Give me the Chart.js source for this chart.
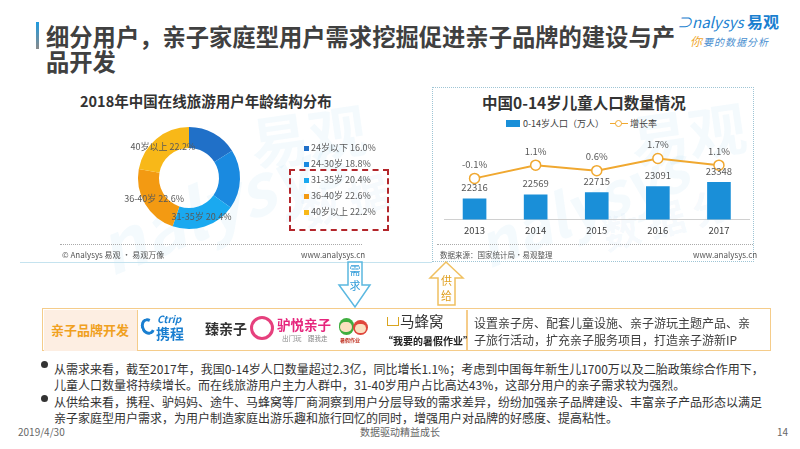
<!DOCTYPE html>
<html><head><meta charset="utf-8">
<script src="https://cdn.jsdelivr.net/npm/chart.js@4.4.1/dist/chart.umd.min.js"></script>
<style>
body{margin:0;width:800px;height:449px;background:#fff;font-family:"Noto Sans CJK SC","Noto Sans",sans-serif;position:relative;overflow:hidden;color:#404040}
.a{position:absolute;white-space:nowrap}
.wm{position:absolute;white-space:nowrap;color:rgba(120,185,225,0.08);font-weight:bold;font-family:"Noto Sans CJK SC",sans-serif}
.bl{font-size:12px;line-height:16px;color:#333}
</style></head><body>
<script>
// ---- data ----
const ageLabels = ['24岁以下','24-30岁','31-35岁','36-40岁','40岁以上'];
const ageValues = [16.0, 18.8, 20.4, 22.6, 22.2];
const ageShownOnRing = [false, false, true, true, true];
const years = ['2013','2014','2015','2016','2017'];
const childPop = [22316, 22569, 22715, 23091, 23348];
const growthRate = [-0.1, 1.1, 0.6, 1.7, 1.1];
const popLabel = '0-14岁人口（万人）';
const rateLabel = '增长率';
</script>

<!-- watermarks -->
<div class="wm" style="left:250px;top:92px;font-size:58px;transform:rotate(-8deg)">易观</div>
<div class="wm" style="left:90px;top:150px;font-size:70px;transform:rotate(-22deg);font-style:italic">nalysys</div>
<div class="wm" style="left:300px;top:170px;font-size:40px;transform:rotate(-15deg)">数 据</div>
<div class="wm" style="left:630px;top:90px;font-size:58px;transform:rotate(-8deg)">易观</div>
<div class="wm" style="left:470px;top:160px;font-size:60px;transform:rotate(-22deg);font-style:italic">nalysys</div>
<div class="wm" style="left:600px;top:190px;font-size:38px;transform:rotate(-15deg)">数 据 分</div>

<!-- title -->
<div class="a" style="left:36px;top:22px;width:3px;height:27px;background:linear-gradient(#1e9be0,#8a8a8a)"></div>
<div class="a" style="left:46px;top:25px;font-size:23.3px;line-height:23px;font-weight:bold;color:#404040">细分用户，亲子家庭型用户需求挖掘促进亲子品牌的建设与产</div>
<div class="a" style="left:46px;top:50px;font-size:23.3px;line-height:22px;font-weight:bold;color:#404040">品开发</div>
<div class="a" style="left:677px;top:12px;font-size:15px;line-height:18px;color:#1a7fd0;font-style:italic">⊃nalysys <b style="font-style:normal;font-size:16px">易观</b></div>
<div class="a" style="left:690px;top:35px;font-size:10px;line-height:12px;color:#4a8fd0;font-style:italic;letter-spacing:1px"><span style="color:#f0a830;font-size:12px">你</span>要的数据分析</div>

<!-- left panel -->
<div class="a" style="left:80px;top:92px;font-size:14.5px;line-height:18px;font-weight:bold;color:#333">2018年中国在线旅游用户年龄结构分布</div>
<canvas id="donut" class="a" width="258" height="136" style="left:60px;top:110px"></canvas>
<div id="ageLegend"></div>
<div class="a" style="left:289px;top:169px;width:96px;height:58px;border:2px dashed #b3262b"></div>
<div class="a" style="left:60px;top:244px;width:302px;border-top:1px dotted #aaa"></div>
<div class="a" style="left:62px;top:250px;font-size:8px;line-height:10px;color:#555">© Analysys 易观 · 易观万像</div>
<div class="a" style="left:301px;top:250px;font-size:8px;line-height:10px;color:#555">www.analysys.cn</div>
<div class="a" style="left:20px;top:262px;width:412px;border-top:1px solid #c5e3ef"></div>

<!-- right panel -->
<div class="a" style="left:432px;top:87px;width:320px;height:173px;border:1.5px dotted #9ec5d5"></div>
<div class="a" style="left:482px;top:92px;font-size:15.5px;line-height:20px;font-weight:bold;color:#333">中国0-14岁儿童人口数量情况</div>
<div id="popLegend"></div>
<canvas id="combo" class="a" width="320" height="111" style="left:436px;top:130px"></canvas>
<div class="a" style="left:437px;top:244px;width:316px;border-top:1px dotted #aaa"></div>
<div class="a" style="left:440px;top:250px;font-size:7.5px;line-height:10px;color:#555">数据来源：国家统计局·易观整理</div>
<div class="a" style="left:693px;top:250px;font-size:8px;line-height:10px;color:#555">www.analysys.cn</div>

<!-- arrows -->
<svg class="a" style="left:330px;top:258px" width="140" height="54" viewBox="330 258 140 54">
  <path d="M348 262 L362 262 L362 285 L370 285 L355 307 L339 285 L348 285 Z" fill="#fff" stroke="#5bb8e0" stroke-width="1.5"/>
  <text x="355" y="275" font-size="11" fill="#2f9bd8" text-anchor="middle" font-family="Noto Sans CJK SC">需</text>
  <text x="355" y="290" font-size="11" fill="#2f9bd8" text-anchor="middle" font-family="Noto Sans CJK SC">求</text>
  <path d="M446 262 L463 278 L455 278 L455 305 L438 305 L438 278 L430 278 Z" fill="#fff" stroke="#f0c060" stroke-width="1.5"/>
  <text x="446.5" y="285" font-size="11" fill="#e0a020" text-anchor="middle" font-family="Noto Sans CJK SC">供</text>
  <text x="446.5" y="300" font-size="11" fill="#e0a020" text-anchor="middle" font-family="Noto Sans CJK SC">给</text>
</svg>

<!-- brand box -->
<div class="a" style="left:42px;top:308px;width:727px;height:41px;border:1.5px solid #f5cc8a"></div>
<div class="a" style="left:43.5px;top:309.5px;width:93px;height:41px;background:#fdeee2;border-right:1.5px solid #f5cc8a"></div>
<div class="a" style="left:466px;top:309.5px;width:1.5px;height:41px;background:#f5cc8a"></div>
<div class="a" style="left:51px;top:321px;font-size:13px;line-height:17px;font-weight:bold;color:#f0a020">亲子品牌开发</div>
<!-- logos -->
<div class="a" style="left:141px;top:318px;width:14px;height:17px;border-radius:50%;border:3.5px solid #1a7fd0;border-right-color:transparent;box-sizing:border-box;transform:rotate(-20deg)"></div>
<div class="a" style="left:157px;top:313px;font-size:10px;line-height:11px;color:#1a7fd0;font-weight:bold;font-style:italic">Ctrip</div>
<div class="a" style="left:156px;top:326px;font-size:14px;line-height:15px;color:#1a7fd0;font-weight:bold">携程</div>
<div class="a" style="left:205px;top:319px;font-size:14px;line-height:18px;color:#333;font-weight:bold">臻亲子</div>
<div class="a" style="left:250px;top:316px;width:24px;height:24px;border-radius:12px;border:3px solid #e6407d;box-sizing:border-box"></div>
<div class="a" style="left:277px;top:316px;font-size:13.5px;line-height:16px;color:#e6267d;font-weight:bold">驴悦亲子</div>
<div class="a" style="left:282px;top:334px;font-size:6.5px;line-height:8px;color:#888">出门玩　跟我走</div>
<div class="a" style="left:339px;top:318px;width:15px;height:17px;border-radius:8px;background:#3fae3f"></div>
<div class="a" style="left:353px;top:320px;width:15px;height:15px;border-radius:8px;background:#e0463c"></div>
<div class="a" style="left:340px;top:322px;width:12px;height:10px;border-radius:6px;background:#fbe0c0"></div>
<div class="a" style="left:355px;top:324px;width:11px;height:9px;border-radius:6px;background:#fbe0c0"></div>
<div class="a" style="left:340px;top:337px;font-size:5px;line-height:6px;color:#c03020;font-weight:bold">暑假作业</div>
<div class="a" style="left:387px;top:317px;width:10px;height:8px;border:1.5px solid #d9a520;border-top:none"></div>
<div class="a" style="left:400px;top:312px;font-size:14.5px;line-height:18px;color:#333">马蜂窝</div>
<div class="a" style="left:383px;top:335px;font-size:10px;line-height:12px;color:#222;font-weight:bold">“我要的暑假作业”</div>
<div class="a" style="left:474px;top:315px;font-size:12px;line-height:16.5px;color:#404040">设置亲子房、配套儿童设施、亲子游玩主题产品、亲<br>子旅行活动，扩充亲子服务项目，打造亲子游新IP</div>

<!-- bullets -->
<div class="a" style="left:41px;top:361px;width:7px;height:7px;border-radius:4px;background:#333"></div>
<div class="a bl" style="left:54px;top:361px">从需求来看，截至2017年，我国0-14岁人口数量超过2.3亿，同比增长1.1%；考虑到中国每年新生儿1700万以及二胎政策综合作用下，<br>儿童人口数量将持续增长。而在线旅游用户主力人群中，31-40岁用户占比高达43%，这部分用户的亲子需求较为强烈。</div>
<div class="a" style="left:41px;top:395px;width:7px;height:7px;border-radius:4px;background:#333"></div>
<div class="a bl" style="left:54px;top:394px">从供给来看，携程、驴妈妈、途牛、马蜂窝等厂商洞察到用户分层导致的需求差异，纷纷加强亲子品牌建设、丰富亲子产品形态以满足<br>亲子家庭型用户需求，为用户制造家庭出游乐趣和旅行回忆的同时，增强用户对品牌的好感度、提高粘性。</div>

<!-- footer -->
<div class="a" style="left:18px;top:426px;font-size:10px;line-height:11px;color:#666">2019/4/30</div>
<div class="a" style="left:350px;top:426px;width:100px;text-align:center;font-size:10px;line-height:11px;color:#666">数据驱动精益成长</div>
<div class="a" style="left:777px;top:426px;font-size:10px;line-height:11px;color:#666">14</div>

<script>
const ageColors = ['#2070c8','#1a8ae0','#1aa9f0','#f39a12','#f8b818'];
const FONT = '"Noto Sans CJK SC","Noto Sans",sans-serif';

// legend for donut
(function(){
  const box = document.getElementById('ageLegend');
  ageLabels.forEach((l,i)=>{
    const y = 148 + i*16;
    box.insertAdjacentHTML('beforeend',
      `<div class="a" style="left:304px;top:${y-2.5}px;width:5px;height:5px;background:${ageColors[i]}"></div>`+
      `<div class="a" style="left:311px;top:${y-6}px;font-size:9px;line-height:12px;color:#595959">${l} ${ageValues[i].toFixed(1)}%</div>`);
  });
})();

const ringLabels = {
  id:'ringLabels',
  afterDatasetsDraw(chart){
    const ctx = chart.ctx;
    const meta = chart.getDatasetMeta(0);
    ctx.save();
    ctx.font = '9px ' + FONT;
    ctx.fillStyle = '#595959';
    ctx.textAlign = 'center';
    ctx.textBaseline = 'middle';
    meta.data.forEach((arc,i)=>{
      if(!ageShownOnRing[i]) return;
      const p = arc.getProps(['x','y','startAngle','endAngle','innerRadius','outerRadius'],true);
      const mid = (p.startAngle + p.endAngle)/2;
      const r = (p.innerRadius + p.outerRadius)/2;
      ctx.fillText(ageLabels[i] + ' ' + ageValues[i].toFixed(1) + '%', p.x + Math.cos(mid)*r, p.y + Math.sin(mid)*r);
    });
    ctx.restore();
  }
};

new Chart(document.getElementById('donut'), {
  type:'doughnut',
  data:{labels:ageLabels, datasets:[{data:ageValues, backgroundColor:ageColors, borderWidth:0}]},
  options:{responsive:false, animation:false, radius:51, cutout:40,
    plugins:{legend:{display:false}, tooltip:{enabled:false}}},
  plugins:[ringLabels]
});

// legend for combo
(function(){
  const box = document.getElementById('popLegend');
  box.insertAdjacentHTML('beforeend',
    `<div class="a" style="left:506px;top:120px;width:14px;height:7px;background:#1a8fd8"></div>`+
    `<div class="a" style="left:523px;top:117.5px;font-size:9px;line-height:12px;color:#404040">${popLabel}</div>`+
    `<div class="a" style="left:610px;top:122.5px;width:18px;height:1.5px;background:#f0a830"></div>`+
    `<div class="a" style="left:615px;top:119.5px;width:5px;height:5px;border-radius:4px;border:1.3px solid #f0a830;background:#fff"></div>`+
    `<div class="a" style="left:630px;top:117.5px;font-size:9px;line-height:12px;color:#404040">${rateLabel}</div>`);
})();

const valueLabels = {
  id:'valueLabels',
  afterDatasetsDraw(chart){
    const ctx = chart.ctx;
    ctx.save();
    ctx.font = '9.5px ' + FONT;
    ctx.fillStyle = '#595959';
    ctx.textAlign = 'center';
    ctx.textBaseline = 'middle';
    chart.data.datasets.forEach((ds,di)=>{
      const meta = chart.getDatasetMeta(di);
      meta.data.forEach((el,i)=>{
        if(ds.type === 'line'){
          ctx.fillText(ds.data[i].toFixed(1)+'%', el.x, el.y - 14);
        } else {
          ctx.fillText(String(ds.data[i]), el.x, el.y - 11);
        }
      });
    });
    ctx.restore();
  }
};

new Chart(document.getElementById('combo'), {
  type:'bar',
  data:{labels:years, datasets:[
    {type:'line', label:rateLabel, data:growthRate, yAxisID:'y1', order:0,
     borderColor:'#f0a830', borderWidth:2, pointRadius:5, pointBackgroundColor:'#fff',
     pointBorderColor:'#f0a830', pointBorderWidth:1.5, tension:0, fill:false},
    {type:'bar', label:popLabel, data:childPop, yAxisID:'y', order:1,
     backgroundColor:'#1a8fd8', barPercentage:0.9, categoryPercentage:0.43}
  ]},
  options:{responsive:false, animation:false,
    layout:{padding:{left:8,right:5,top:0,bottom:0}},
    plugins:{legend:{display:false}, tooltip:{enabled:false}},
    scales:{
      x:{grid:{display:false, drawTicks:false}, border:{display:true,color:'#d0d0d0'},
         ticks:{padding:5, color:'#404040', font:{size:9.5, family:FONT}}},
      y:{display:false, min:21000, max:26200},
      y1:{display:false, min:-3.84, max:3.7}
    }},
  plugins:[valueLabels]
});
</script>
</body></html>
